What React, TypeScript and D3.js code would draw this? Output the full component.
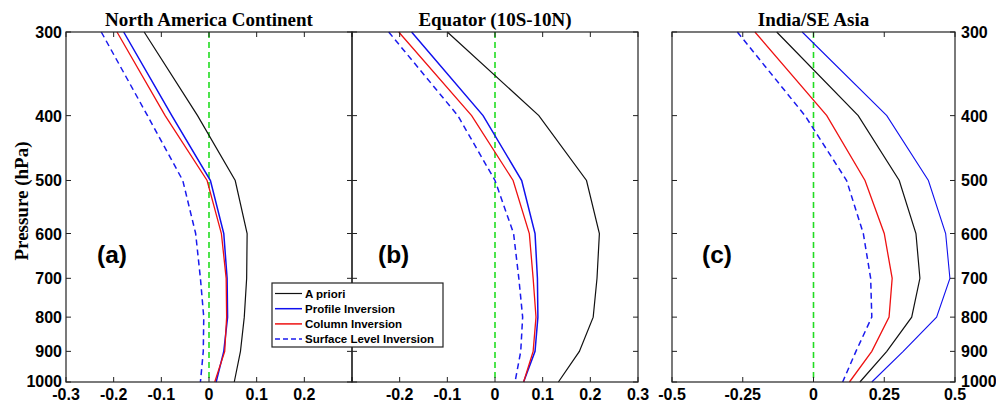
import React from 'react'
import { scaleLinear, scaleLog, line } from 'd3'

// pressure levels (hPa)
const levels = [300, 400, 500, 600, 700, 800, 900, 1000]
const pressureTicks = [300, 400, 500, 600, 700, 800, 900, 1000]

const seriesNames = ['A priori', 'Profile Inversion', 'Column Inversion', 'Surface Level Inversion']

// North America Continent
const naApriori = [-0.136, -0.024, 0.055, 0.08, 0.079, 0.074, 0.066, 0.053]
const naProfile = [-0.179, -0.078, 0.003, 0.031, 0.038, 0.039, 0.031, 0.015]
const naColumn = [-0.193, -0.092, -0.004, 0.026, 0.036, 0.037, 0.033, 0.012]
const naSurface = [-0.226, -0.129, -0.055, -0.028, -0.018, -0.011, -0.012, -0.018]

// Equator (10S-10N)
const eqApriori = [-0.1, 0.092, 0.192, 0.219, 0.214, 0.206, 0.177, 0.133]
const eqProfile = [-0.175, -0.025, 0.056, 0.084, 0.089, 0.09, 0.084, 0.06]
const eqColumn = [-0.202, -0.049, 0.038, 0.072, 0.08, 0.086, 0.08, 0.06]
const eqSurface = [-0.223, -0.078, 0.0, 0.039, 0.05, 0.058, 0.054, 0.042]

// India/SE Asia
const inApriori = [-0.13, 0.158, 0.303, 0.362, 0.376, 0.347, 0.259, 0.164]
const inProfile = [-0.04, 0.259, 0.406, 0.467, 0.482, 0.435, 0.317, 0.206]
const inColumn = [-0.207, 0.047, 0.182, 0.25, 0.278, 0.267, 0.206, 0.127]
const inSurface = [-0.269, -0.03, 0.117, 0.176, 0.202, 0.206, 0.15, 0.103]

const abTicks = [-0.3, -0.2, -0.1, 0, 0.1, 0.2, 0.3]
const cTicks = [-0.5, -0.25, 0, 0.25, 0.5]

const styles = [
  { color: '#111', width: 1.2, dash: null },
  { color: '#1010ee', width: 1.5, dash: null },
  { color: '#ee1111', width: 1.3, dash: null },
  { color: '#1a1aee', width: 1.5, dash: '6,4' },
]

const top = 32
const bottom = 382

const panels = [
  { title: 'North America Continent', tag: '(a)', left: 66, right: 352, domain: [-0.3, 0.3], ticks: abTicks, hide: [0.3], series: [naApriori, naProfile, naColumn, naSurface], tagX: 97 },
  { title: 'Equator (10S-10N)', tag: '(b)', left: 352, right: 638, domain: [-0.3, 0.3], ticks: abTicks, hide: [-0.3], series: [eqApriori, eqProfile, eqColumn, eqSurface], tagX: 378 },
  { title: 'India/SE Asia', tag: '(c)', left: 672, right: 955, domain: [-0.5, 0.5], ticks: cTicks, hide: [], series: [inApriori, inProfile, inColumn, inSurface], tagX: 702 },
]

const y = scaleLog().domain([300, 1000]).range([top, bottom])
const tickFont = { fontFamily: 'Liberation Sans, Arial, sans-serif', fontWeight: 'bold', fontSize: 16 }
const serifFont = { fontFamily: 'Liberation Serif, Times New Roman, serif', fontWeight: 'bold', fontSize: 19 }

function Panel({ p, i }) {
  const x = scaleLinear().domain(p.domain).range([p.left, p.right])
  const path = line().x(d => x(d[0])).y(d => y(d[1]))
  const fmt = v => (Math.abs(v) < 1e-9 ? '0' : String(v))
  return (
    <g>
      <text x={(p.left + p.right) / 2} y={26} textAnchor="middle" style={serifFont}>{p.title}</text>
      {/* zero line */}
      <line x1={x(0)} x2={x(0)} y1={top} y2={bottom} stroke="#22dd22" strokeWidth={1.6} strokeDasharray="6,4" />
      {p.series.map((s, k) => (
        <path key={k} d={path(s.map((v, j) => [v, levels[j]]))} fill="none"
          stroke={styles[k].color} strokeWidth={k === 1 && i === 2 ? 1.1 : styles[k].width}
          strokeDasharray={styles[k].dash || undefined} />
      ))}
      <rect x={p.left} y={top} width={p.right - p.left} height={bottom - top} fill="none" stroke="#222" strokeWidth={1.2} />
      {p.ticks.map(t => (
        <g key={t}>
          <line x1={x(t)} x2={x(t)} y1={bottom} y2={bottom - 5} stroke="#222" />
          <line x1={x(t)} x2={x(t)} y1={top} y2={top + 5} stroke="#222" />
          {p.hide.includes(t) ? null : (
            <text x={x(t)} y={400} textAnchor="middle" style={tickFont}>{fmt(t)}</text>
          )}
        </g>
      ))}
      {pressureTicks.map(t => (
        <g key={t}>
          <line x1={p.left} x2={p.left + 5} y1={y(t)} y2={y(t)} stroke="#222" />
          <line x1={p.right} x2={p.right - 5} y1={y(t)} y2={y(t)} stroke="#222" />
        </g>
      ))}
      <text x={p.tagX} y={263} style={{ ...tickFont, fontSize: 24.5 }}>{p.tag}</text>
    </g>
  )
}

export default function App() {
  return (
    <svg width={996} height={407} style={{ position: 'absolute', left: 0, top: 0, background: '#fff' }}>
      <rect width={996} height={407} fill="#fff" />
      {panels.map((p, i) => <Panel key={i} p={p} i={i} />)}
      {/* left pressure labels */}
      {pressureTicks.map(t => (
        <text key={'l' + t} x={62} y={y(t) + (t === 1000 ? 5 : 6)} textAnchor="end" style={tickFont}>{t}</text>
      ))}
      {/* right pressure labels */}
      {pressureTicks.map(t => (
        <text key={'r' + t} x={961} y={y(t) + (t === 1000 ? 5 : 6)} textAnchor="start" style={tickFont}>{t}</text>
      ))}
      <text transform={`translate(28,${(top + bottom) / 2 - 6}) rotate(-90)`} textAnchor="middle" style={serifFont}>Pressure (hPa)</text>
      {/* legend */}
      <g>
        <rect x={272} y={283} width={171} height={64} fill="#fff" stroke="#222" strokeWidth={1.2} />
        {seriesNames.map((n, k) => (
          <g key={n}>
            <line x1={275} x2={302} y1={293.5 + k * 15.2} y2={293.5 + k * 15.2}
              stroke={styles[k].color} strokeWidth={k === 0 ? 1.2 : 1.5} strokeDasharray={styles[k].dash ? '5,3' : undefined} />
            <text x={305} y={297.5 + k * 15.2}
              style={{ fontFamily: 'Liberation Sans, Arial, sans-serif', fontWeight: 'bold', fontSize: 11.5 }}>{n}</text>
          </g>
        ))}
      </g>
    </svg>
  )
}
